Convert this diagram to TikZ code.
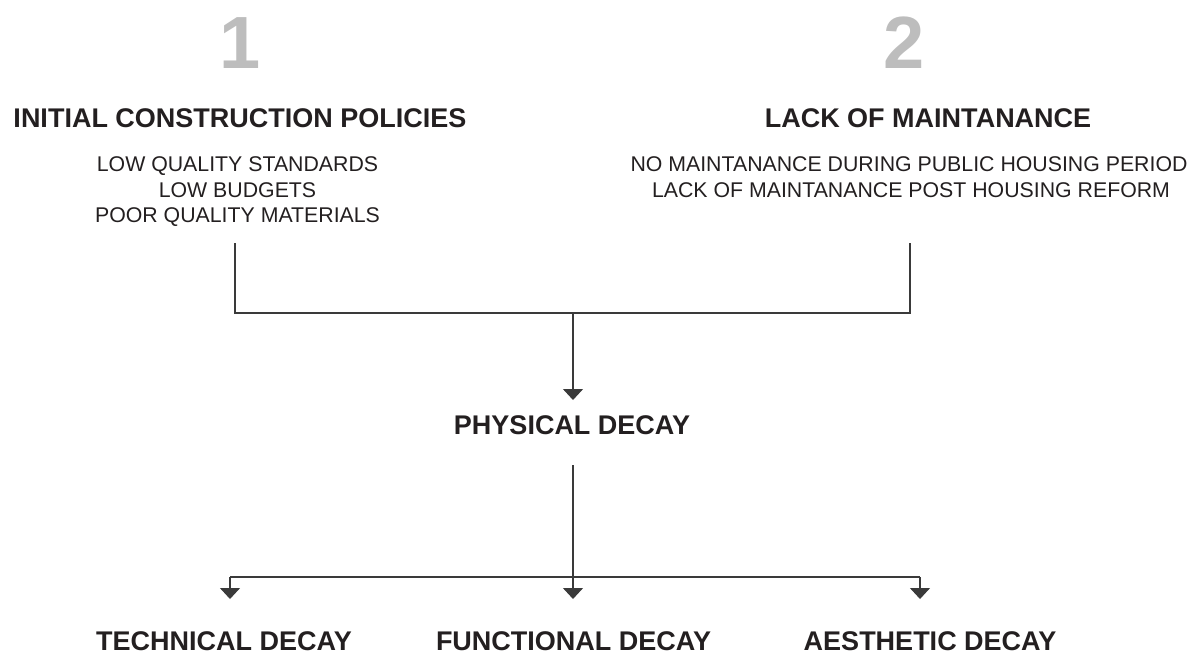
\documentclass[tikz,border=0pt]{standalone}
\usepackage{fontspec}
\setmainfont{Liberation Sans}
\usetikzlibrary{arrows.meta}
\definecolor{txt}{HTML}{231F20}
\definecolor{num}{HTML}{BDBDBD}
\definecolor{ln}{HTML}{3A3A3A}
\tikzset{
  bignum/.style={anchor=base, inner sep=0pt, text=num, font=\fontsize{74}{80}\selectfont\bfseries},
  head/.style={anchor=base, inner sep=0pt, text=txt, font=\fontsize{27}{32}\selectfont\bfseries},
  sub/.style={anchor=base, inner sep=0pt, text=txt, font=\fontsize{21.3}{25}\selectfont},
  conn/.style={draw=ln, line width=1.3pt},
  arr/.style={conn, -{Triangle[width=20pt,length=11pt]}},
}
\begin{document}
\begin{tikzpicture}[x=1pt,y=-1pt]
\useasboundingbox (0,0) rectangle (1198,657);
% numbers
\node[bignum] (n1) at (240,68) {1};
\node[bignum] (n2) at (904,68) {2};
% headers
\node[head] (h1) at (240,127) {INITIAL CONSTRUCTION POLICIES};
\node[head] (h2) at (928,127) {LACK OF MAINTANANCE};
% sub texts
\node[sub] (s1a) at (237.5,171) {LOW QUALITY STANDARDS};
\node[sub] (s1b) at (237.5,197) {LOW BUDGETS};
\node[sub] (s1c) at (237.5,222) {POOR QUALITY MATERIALS};
\node[sub] (s2a) at (909,171) {NO MAINTANANCE DURING PUBLIC HOUSING PERIOD};
\node[sub] (s2b) at (911,197) {LACK OF MAINTANANCE POST HOUSING REFORM};
% middle
\node[head] (pd) at (572,434) {PHYSICAL DECAY};
% bottom
\node[head] (td) at (224,650) {TECHNICAL DECAY};
\node[head] (fd) at (573.5,650) {FUNCTIONAL DECAY};
\node[head] (ad) at (930,650) {AESTHETIC DECAY};
% connector points
\coordinate (la) at (235,243);
\coordinate (lb) at (235,313);
\coordinate (ra) at (910,243);
\coordinate (rb) at (910,313);
\coordinate (mj) at (573,313);
\coordinate (mt) at (573,400);
\coordinate (pa) at (573,465);
\coordinate (pb) at (573,577);
\coordinate (bl) at (230,577);
\coordinate (br) at (920,577);
\coordinate (tl) at (230,599);
\coordinate (tm) at (573,599);
\coordinate (tr) at (920,599);
% connectors
\draw[conn] (la) -- (lb) -- (rb) -- (ra);
\draw[arr] (mj) -- (mt);
\draw[conn] (pa) -- (pb);
\draw[conn] (bl) -- (br);
\draw[arr] (bl) -- (tl);
\draw[arr] (pb) -- (tm);
\draw[arr] (br) -- (tr);
\end{tikzpicture}
\end{document}
